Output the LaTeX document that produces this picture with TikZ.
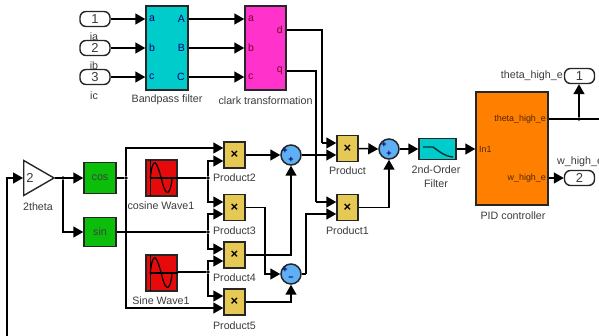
\documentclass[tikz,border=0pt]{standalone}
\usepackage{fontspec}
\setmainfont{Liberation Sans}
\usepackage{tikz}
\usetikzlibrary{arrows.meta, shapes.geometric, calc}
\definecolor{bandColor}{RGB}{0, 204, 204}
\definecolor{clarkColor}{RGB}{255, 51, 204}
\definecolor{trigColor}{RGB}{10, 190, 10}
\definecolor{waveColor}{RGB}{230, 10, 10}
\definecolor{prodColor}{RGB}{230, 200, 85}
\definecolor{sumColor}{RGB}{95, 175, 245}
\definecolor{pidColor}{RGB}{255, 128, 0}
\definecolor{labelColor}{RGB}{60, 60, 60}
\tikzset{
    wire/.style={line width=1.5pt, black},
    arrowwire/.style={wire, -{Triangle[length=10pt, width=11pt]}},
    block/.style={draw=black!85, line width=1.5pt, inner sep=0pt, font=\fontsize{10.7}{11}\selectfont},
    port/.style={draw=black!85, line width=1.4pt, fill=white, rounded corners=6pt, minimum width=30pt, minimum height=15pt, inner sep=0pt, text=labelColor, font=\fontsize{13}{13}\selectfont},
    tag/.style={text=labelColor, inner sep=0pt, font=\fontsize{10.7}{11}\selectfont},
    pin/.style={inner sep=0pt, font=\fontsize{10.5}{11}\selectfont},
    pidpin/.style={inner sep=0pt, text=black!70!pidColor, font=\fontsize{8.9}{10}\selectfont},
    product/.style={block, fill=prodColor, minimum width=21pt, minimum height=26pt, font=\fontsize{13}{13}\selectfont\bfseries},
    sumblock/.style={circle, draw=black!85, line width=1.5pt, fill=sumColor, minimum size=20pt, inner sep=0pt},
    sign/.style={inner sep=0pt, text=blue!40!black, font=\fontsize{9}{9}\selectfont\bfseries},
    wave/.style={block, fill=waveColor, minimum width=31pt, minimum height=36pt},
    dot/.style={circle, fill=black, inner sep=0pt, minimum size=3.6pt}
}

\begin{document}
\begin{tikzpicture}[x=1pt, y=-1pt]
    \clip (0,0) rectangle (599,336);
    \fill[white] (0,0) rectangle (599,336);

    % Inputs
    \node[port] (ia) at (95,19) {1};
    \node[port] (ib) at (95,48) {2};
    \node[port] (ic) at (95,77) {3};
    \node[tag] (iaLabel) at (94,37) {ia};
    \node[tag] (ibLabel) at (94,66) {ib};
    \node[tag] (icLabel) at (94,96) {ic};

    % Bandpass filter and clark transformation
    \node[block, fill=bandColor, minimum width=42pt, minimum height=84pt] (band) at (167,48) {};
    \node[block, fill=clarkColor, minimum width=41pt, minimum height=84pt] (clark) at (265.5,48) {};
    \node[tag] (bandLabel) at (167,100) {Bandpass filter};
    \node[tag] (clarkLabel) at (265.5,101) {clark transformation};
    \foreach \ypos/\txt in {19/a, 48/b, 77/c} {
        \node[pin, text=blue!45!black, anchor=west] (band\txt) at (149,\ypos) {\txt};
        \node[pin, text=purple!60!black, anchor=west] (clark\txt) at (248,\ypos) {\txt};
    }
    \node[pin, text=blue!45!black, anchor=east] (bandA) at (185,19) {A};
    \node[pin, text=blue!45!black, anchor=east] (bandB) at (185,48) {B};
    \node[pin, text=blue!45!black, anchor=east] (bandC) at (185,77) {C};
    \node[pin, text=purple!60!black, anchor=east] (clarkd) at (283,30) {d};
    \node[pin, text=purple!60!black, anchor=east] (clarkq) at (283,71) {q};

    % Gain and trig blocks
    \node[isosceles triangle, isosceles triangle apex angle=60, draw=black!85, line width=1.4pt, fill=white, inner sep=0pt, minimum height=30pt, minimum width=35pt, anchor=west] (gain) at (23,178) {};
    \node[tag, font=\fontsize{13}{13}\selectfont] (gainNum) at (30,178) {2};
    \node[tag] (gainLabel) at (38,207) {2theta};
    \node[block, fill=trigColor, text=black!75, minimum width=32pt, minimum height=31pt] (cos) at (100,178) {cos};
    \node[block, fill=trigColor, text=black!75, minimum width=32pt, minimum height=29pt] (sin) at (100,232) {sin};

    % Sources
    \node[wave] (cosWave) at (161.5,178) {};
    \node[wave] (sinWave) at (161.5,273) {};
    \node[tag] (cosLabel) at (161,206) {cosine Wave1};
    \node[tag] (sinLabel) at (161,301) {Sine Wave1};
    \foreach \src in {cosWave, sinWave} {
        \draw[line width=1.2pt] ($(\src.west)+(5,-18)$) -- ($(\src.west)+(5,18)$);
        \draw[line width=1.2pt] ($(\src.west)+(5,0)$) -- (\src.east);
        \draw[line width=1.2pt] ($(\src.west)+(5,0)$) .. controls ($(\src.west)+(8,-26)$) and ($(\src.west)+(12,-14)$) .. ($(\src.west)+(16,0)$) .. controls ($(\src.west)+(19,14)$) and ($(\src.west)+(24,24)$) .. ($(\src.west)+(27,0)$);
    }

    % Products
    \foreach \prod/\ya/\yb/\ymid/\ylab/\xpos/\txt in {
        prodTwo/148/161/155/178/234.5/Product2,
        prodThree/202/214/207.5/231/234.5/Product3,
        prodFour/249/261/255/278/234.5/Product4,
        prodFive/296/308/302/326/234.5/Product5,
        prodTop/143/155/148.5/171/347.5/Product,
        prodBot/202/214/207.5/231/347.5/Product1} {
        \node[product] (\prod) at (\xpos,\ymid) {×};
        \coordinate (\prod A) at (\prod.west |- 0,\ya);
        \coordinate (\prod B) at (\prod.west |- 0,\yb);
        \node[tag, fill=white, inner xsep=1pt] (\prod Label) at (\xpos,\ylab) {\txt};
    }

    % Sums
    \node[sumblock] (sumOne) at (291,155) {};
    \node[sumblock] (sumTwo) at (291,274) {};
    \node[sumblock] (sumOut) at (389,149) {};
    \node[sign] (signOneA) at (285,151) {+};
    \node[sign] (signOneB) at (291,160) {+};
    \node[sign] (signTwoA) at (285,270) {+};
    \node[sign] (signTwoB) at (291,279) {−};
    \node[sign] (signOutA) at (384,145) {+};
    \node[sign] (signOutB) at (389,154) {+};

    % Filter and PID controller
    \node[block, fill=bandColor, minimum width=37pt, minimum height=21pt] (filter) at (437.5,149) {};
    \node[tag] (filterLabelA) at (436,170) {2nd-Order};
    \node[tag] (filterLabelB) at (436,184) {Filter};
    \draw[line width=1.4pt, black!75!bandColor] (423,147) -- (433,147) .. controls (440,152) and (444,156) .. (453,157);
    \node[block, fill=pidColor, minimum width=72pt, minimum height=113pt] (pid) at (512,148.5) {};
    \node[tag] (pidLabel) at (513,216) {PID controller};
    \node[pidpin, anchor=west] (pidIn) at (479,149) {In1};
    \node[pidpin, anchor=east] (pidTheta) at (546,119) {theta\_high\_e};
    \node[pidpin, anchor=east] (pidW) at (546,178) {w\_high\_e};

    % Outputs
    \node[port] (thetaOut) at (579.5,76) {1};
    \node[port] (wOut) at (579.5,178) {2};
    \node[tag, anchor=east] (thetaLabel) at (563,76) {theta\_high\_e};
    \node[tag, anchor=west] (wLabel) at (557,162) {w\_high\_e};

    % Named points on the wires
    \coordinate (fbEnd) at (7,336);
    \coordinate (gainIn) at (gain.west);
    \coordinate (busD) at (322,143);
    \coordinate (busQ) at (316,202);
    \coordinate (busSum) at (306,274);
    \coordinate (outEnd) at (599,119);
    \node[dot] (gainDot) at (63,178) {};
    \node[dot] (cosDot) at (126,178) {};
    \node[dot] (cosWaveDot) at (208,178) {};
    \node[dot] (sinDot) at (208,232) {};
    \node[dot] (sinWaveDot) at (208,272) {};
    \node[dot] (thetaDot) at (579,119) {};

    % Wires from the inputs
    \foreach \from in {ia, ib, ic} {
        \draw[arrowwire] (\from.east) -- (band.west |- \from.east);
        \draw[arrowwire] (band.east |- \from.east) -- (clark.west |- \from.east);
    }
    \draw[wire] (clark.east |- clarkd) -| (busD);
    \draw[arrowwire] (busD) -- (prodTopA);
    \draw[wire] (clark.east |- clarkq) -| (busQ);
    \draw[arrowwire] (busQ) -- (prodBotA);

    % Wires around the gain
    \draw[arrowwire] (fbEnd) |- (gainIn);
    \draw[arrowwire] (gain.east) -- (cos.west);
    \draw[arrowwire] (gainDot) |- (sin.west);
    \draw[wire] (cos.east) -- (cosDot);
    \draw[arrowwire] (cosDot) |- (prodTwoA);
    \draw[arrowwire] (cosDot) |- (prodFiveB);
    \draw[wire] (cosWave.east) -- (cosWaveDot);
    \draw[wire] (sin.east) -- (sinDot);
    \draw[wire] (sinWave.east |- sinWaveDot) -- (sinWaveDot);
    \draw[arrowwire] (cosWaveDot) |- (prodTwoB);
    \draw[arrowwire] (cosWaveDot) |- (prodThreeA);
    \draw[arrowwire] (sinDot) |- (prodThreeB);
    \draw[arrowwire] (sinDot) |- (prodFourA);
    \draw[arrowwire] (sinWaveDot) |- (prodFourB);
    \draw[arrowwire] (sinWaveDot) |- (prodFiveA);

    % Wires into the sums
    \draw[arrowwire] (prodTwo.east) -- (sumOne.west |- prodTwo.east);
    \draw[arrowwire] (prodFour.east) -| (sumOne.south);
    \draw[arrowwire] (prodThree.east) -- (265,207.5) |- (sumTwo.west);
    \draw[arrowwire] (prodFive.east) -| (sumTwo.south);
    \draw[arrowwire] (sumOne.east) -- (prodTopB);
    \draw[wire] (sumTwo.east) -- (busSum);
    \draw[arrowwire] (busSum) |- (prodBotB);
    \draw[arrowwire] (prodTop.east) -- (sumOut.west);
    \draw[arrowwire] (prodBot.east) -| (sumOut.south);
    \draw[arrowwire] (sumOut.east) -- (filter.west);
    \draw[arrowwire] (filter.east) -- (pid.west |- filter.east);

    % Wires to the outputs
    \draw[wire] (pid.east |- pidTheta) -- (outEnd);
    \draw[arrowwire] (thetaDot) -- (thetaDot |- thetaOut.south);
    \draw[arrowwire] (pid.east |- wOut) -- (wOut.west);
\end{tikzpicture}
\end{document}
